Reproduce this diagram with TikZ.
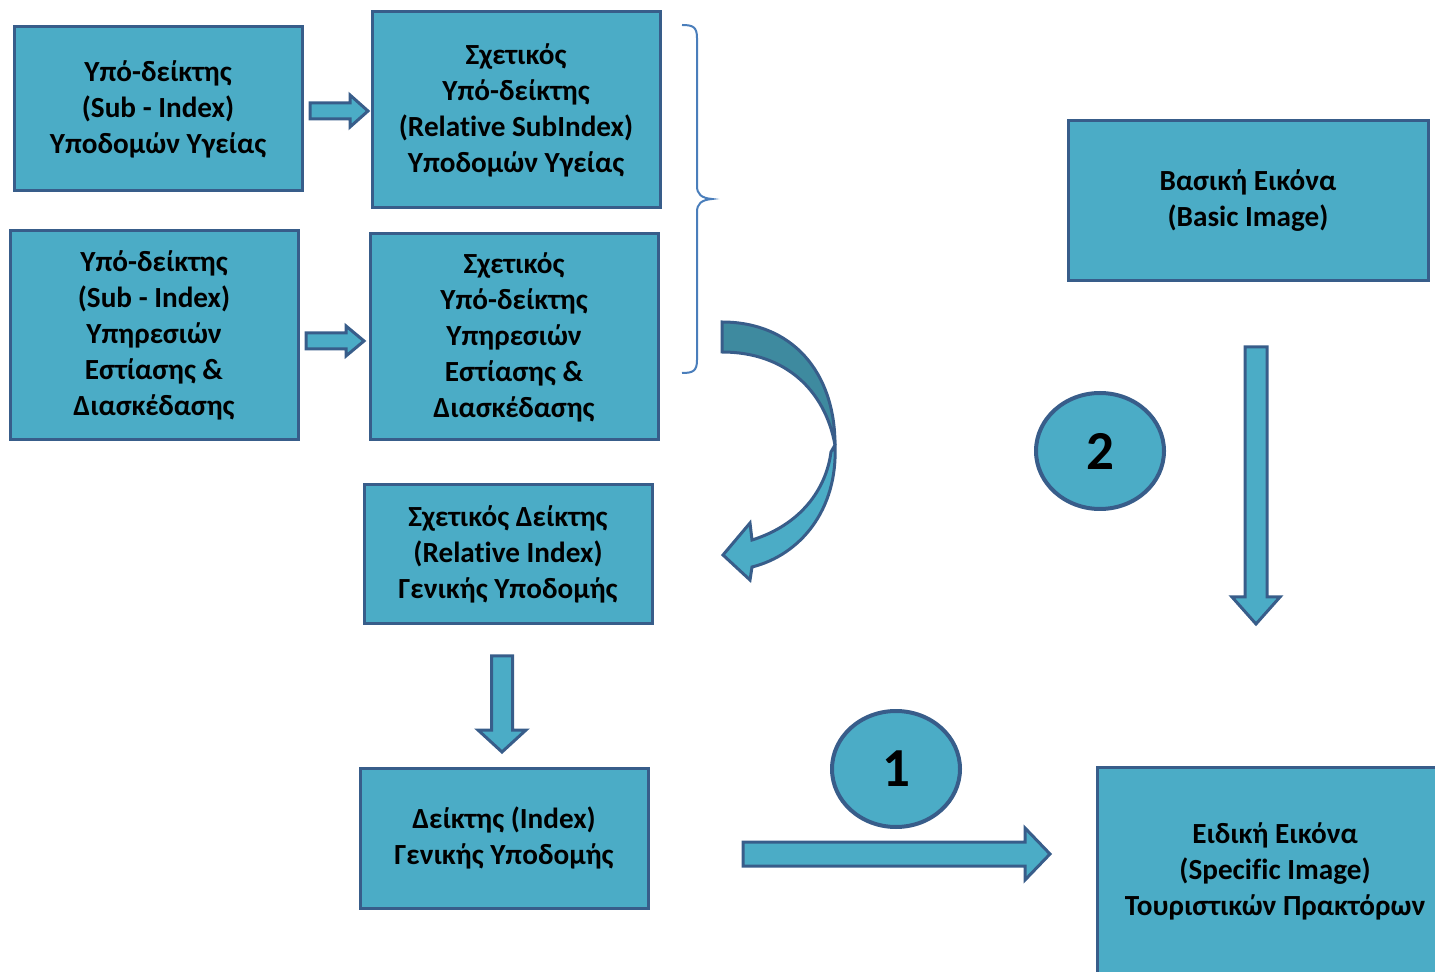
\documentclass[tikz,border=0pt]{standalone}
\usepackage{fontspec}
\setmainfont{Carlito}[Ligatures=NoCommon]
\usetikzlibrary{calc,shapes.geometric}
\definecolor{boxfill}{HTML}{4BACC6}
\definecolor{boxline}{HTML}{385D8A}
\definecolor{backface}{HTML}{3E8A9F}
\definecolor{bracecol}{HTML}{4A7EBB}
% break the font's ti / fi ligatures
\newcommand\nolig{\kern0pt\relax}

\begin{document}
\begin{tikzpicture}[x=0.5pt,y=-0.5pt,
  box/.style={draw=boxline, fill=boxfill, line width=1.5pt, align=center,
    inner sep=0pt, font=\fontsize{14.6}{18}\selectfont\bfseries},
  numcircle/.style={ellipse, draw=boxline, fill=boxfill, line width=2pt,
    minimum width=64pt, minimum height=58pt, inner sep=0pt,
    font=\fontsize{27.5}{30}\selectfont\bfseries},
  blockshape/.style={draw=boxline, fill=boxfill, line width=1.5pt, line join=miter},
  % horizontal block arrow: #1 shaft half-width, #2 head half-width, #3 head length
  blockR/.style n args={3}{blockshape, to path={
    ($(\tikztostart)+(0,-#1)$) -- ($(\tikztotarget)+(-#3,-#1)$) --
    ($(\tikztotarget)+(-#3,-#2)$) -- (\tikztotarget) --
    ($(\tikztotarget)+(-#3,#2)$) -- ($(\tikztotarget)+(-#3,#1)$) --
    ($(\tikztostart)+(0,#1)$) -- cycle}},
  % vertical block arrow pointing down
  blockD/.style n args={3}{blockshape, to path={
    ($(\tikztostart)+(-#1,0)$) -- ($(\tikztotarget)+(-#1,-#3)$) --
    ($(\tikztotarget)+(-#2,-#3)$) -- (\tikztotarget) --
    ($(\tikztotarget)+(#2,-#3)$) -- ($(\tikztotarget)+(#1,-#3)$) --
    ($(\tikztostart)+(#1,0)$) -- cycle}}
]
\useasboundingbox (0,0) rectangle (1435,972);

% boxes
\node[box, minimum width=144pt, minimum height=82pt] (A) at (158,109)
  {Υπό-δείκτης\\(Sub - Index)\\Υποδομών Υγείας};
\node[box, minimum width=144pt, minimum height=98pt] (B) at (516,110)
  {Σχετικός\\Υπό-δείκτης\\(Relat\nolig ive SubIndex)\\Υποδομών Υγείας};
\node[box, minimum width=144pt, minimum height=104.5pt] (C) at (154,335.5)
  {Υπό-δείκτης\\(Sub - Index)\\Υπηρεσιών\\Εστίασης \&\\Διασκέδασης};
\node[box, minimum width=144pt, minimum height=103pt] (D) at (514,337)
  {Σχετικός\\Υπό-δείκτης\\Υπηρεσιών\\Εστίασης \&\\Διασκέδασης};
\node[box, minimum width=144pt, minimum height=69.5pt] (E) at (508,554.5)
  {Σχετικός Δείκτης\\(Relat\nolig ive Index)\\Γενικής Υποδομής};
\node[box, minimum width=144pt, minimum height=70pt] (F) at (504,838)
  {Δείκτης (Index)\\Γενικής Υποδομής};
\node[box, minimum width=180pt, minimum height=80pt] (G) at (1248,201)
  {Βασική Εικόνα\\(Basic Image)};
\node[box, minimum width=178pt, minimum height=104pt] (H) at (1275,871)
  {Ειδική Εικόνα\\(Specif\nolig ic Image)\\Τουριστικών Πρακτόρων};

% numbered circles
\node[numcircle] (n2) at (1100,451) {2};
\node[numcircle] (n1) at (896,769) {1};

% block arrows
\coordinate (ab1) at (310,111);  \coordinate (ab2) at (368,111);
\coordinate (cd1) at (306,341);  \coordinate (cd2) at (364,341);
\coordinate (ef1) at (502,656);  \coordinate (ef2) at (502,752);
\coordinate (fh1) at (743,854);  \coordinate (fh2) at (1050,854);
\coordinate (gh1) at (1256,347); \coordinate (gh2) at (1256,624);
\draw[blockR={8}{16}{18}] (ab1) to (ab2);
\draw[blockR={8}{15}{18}] (cd1) to (cd2);
\draw[blockD={10.5}{24}{22}] (ef1) to (ef2);
\draw[blockR={12}{26}{25}] (fh1) to (fh2);
\draw[blockD={11}{24}{27}] (gh1) to (gh2);

% brace grouping the two relative sub-indices
\draw[bracecol, line width=1pt]
  (682,25) .. controls (693,25) and (697,27) .. (697,38) -- (697,186)
  .. controls (697,194) and (701,198) .. (712,199)
  .. controls (701,200) and (697,204) .. (697,212) -- (697,360)
  .. controls (697,371) and (693,373) .. (682,373);

% curved arrow from the sub-indices down to the relative index
\draw[boxline, fill=boxfill, line width=1.5pt, line join=miter]
  (835,445) .. controls (838,510) and (800,555) .. (752,567)
  -- (750,580) -- (723,555) -- (750,523) -- (752,540)
  .. controls (800,525) and (826,490) .. (831,452) -- cycle;
\draw[boxline, fill=backface, line width=1.5pt, line join=miter]
  (722,322) .. controls (792,322) and (835,372) .. (835,445)
  .. controls (825,390) and (785,352) .. (722,352) -- cycle;
\end{tikzpicture}
\end{document}
